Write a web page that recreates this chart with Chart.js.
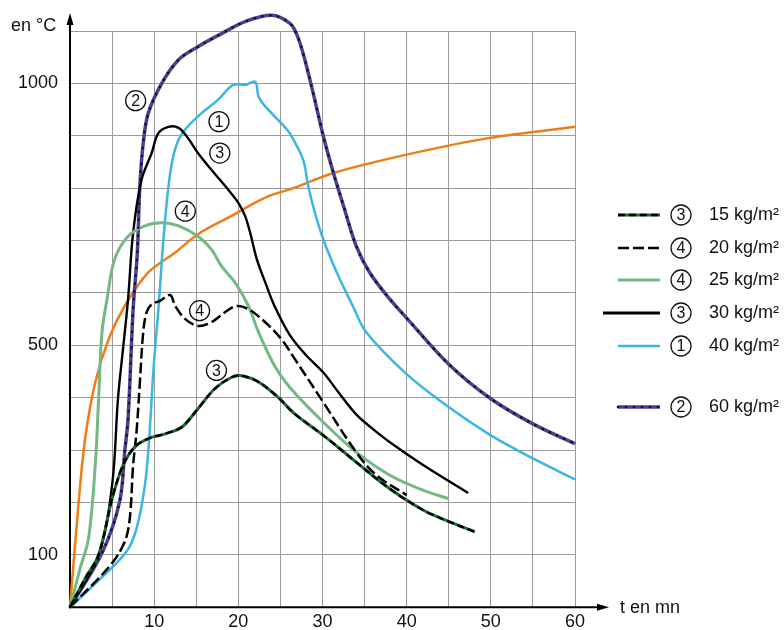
<!DOCTYPE html>
<html>
<head>
<meta charset="utf-8">
<script src="https://cdn.jsdelivr.net/npm/chart.js@4.4.1/dist/chart.umd.min.js"></script>
<style>
  html, body { margin: 0; padding: 0; background: #fff; }
</style>
</head>
<body>
<canvas id="fireChart" width="784" height="630"></canvas>
<script>
// Temperature (°C) against time (min)
const t15 = [0, 1.8, 3.4, 5.0, 6.3, 7.7, 9.3, 11.3, 13.3, 15.2, 17.2, 19.2, 20.4, 22.4, 24.7, 26.7, 30.1, 34.0, 38.0, 42.0, 45.1, 48.1];
const temp15 = [0, 55, 100, 207, 271, 306, 322, 331, 344, 379, 417, 439, 442, 430, 401, 369, 328, 277, 226, 185, 163, 144];

const t20 = [0, 4.8, 6.5, 7.1, 7.5, 7.9, 8.3, 8.7, 9.1, 9.7, 10.7, 11.9, 12.5, 13.7, 15.2, 16.8, 18.4, 19.8, 21.2, 23.2, 25.1, 26.7, 30.1, 34.0, 36.4, 40.0];
const temp20 = [0, 80, 125, 169, 271, 334, 429, 525, 563, 578, 585, 596, 575, 550, 537, 544, 563, 575, 569, 544, 512, 474, 391, 296, 252, 214];

const t25 = [0, 1.2, 2.2, 3.0, 3.4, 3.8, 4.4, 5.3, 6.9, 8.9, 10.9, 12.9, 15.2, 16.8, 18.0, 19.6, 21.2, 22.4, 24.3, 26.1, 30.1, 34.0, 38.0, 42.0, 45.0];
const temp25 = [0, 74, 131, 271, 398, 525, 588, 664, 708, 728, 734, 728, 708, 683, 651, 620, 575, 525, 461, 420, 353, 296, 252, 223, 207];

const t30 = [0, 3.4, 5.0, 5.7, 6.3, 6.9, 7.5, 8.5, 9.7, 10.5, 11.7, 12.9, 14.0, 15.2, 16.8, 18.8, 20.0, 20.8, 21.4, 22.2, 23.2, 24.3, 26.1, 28.0, 30.1, 32.0, 34.0, 36.0, 38.0, 42.0, 47.3];
const temp30 = [0, 100, 233, 398, 493, 588, 715, 816, 867, 905, 917, 915, 896, 867, 835, 797, 772, 747, 715, 664, 620, 575, 520, 482, 448, 408, 368, 340, 315, 271, 218];

const t40 = [0, 2.8, 6.7, 7.9, 8.9, 9.4, 9.9, 10.5, 11.3, 12.1, 13.1, 15.2, 17.6, 19.4, 20.8, 22.0, 22.4, 23.2, 25.1, 26.1, 27.7, 28.3, 29.1, 30.1, 31.7, 33.6, 35.2, 40, 45, 50, 55, 60];
const temp40 = [0, 42, 106, 150, 233, 320, 450, 569, 740, 848, 899, 937, 969, 997, 997, 1003, 975, 956, 924, 905, 854, 804, 753, 702, 639, 575, 525, 445, 382, 328, 284, 244];

const t60 = [0, 3.9, 5.9, 6.5, 6.9, 7.5, 8.0, 8.3, 8.7, 9.3, 10.9, 12.9, 15.2, 18.0, 20.8, 24.0, 26.1, 26.9, 27.7, 28.9, 30.1, 31.3, 32.5, 34.0, 35.6, 38.0, 40.0, 45.0, 50.0, 55.0, 60];
const temp60 = [0, 107, 202, 297, 360, 569, 677, 804, 886, 943, 1000, 1045, 1070, 1095, 1118, 1130, 1115, 1095, 1057, 981, 899, 829, 766, 690, 639, 588, 552, 464, 398, 350, 312];

// reference fire curve (orange, no legend entry)
const tRef = [0, 1.0, 1.8, 3.0, 4.6, 6.5, 9.3, 12.5, 15.2, 19.2, 23.2, 26.7, 31.3, 40.0, 49.9, 60, 62.6];
const tempRef = [0, 195, 322, 429, 512, 575, 639, 677, 712, 747, 782, 801, 829, 864, 896, 917, 923];

const legendNums = ['3', '4', '4', '3', '1', '2'];
const legendLabels = ['15 kg/m²', '20 kg/m²', '25 kg/m²', '30 kg/m²', '40 kg/m²', '60 kg/m²'];

// circled numbers written next to the curves
const markText = ['2', '1', '3', '4', '4', '3'];
const markT = [7.8, 17.7, 17.8, 13.7, 15.4, 17.4];
const markTemp = [967, 927, 867, 756, 566, 452];

const xTickLabels = [10, 20, 30, 40, 50, 60];
const yTickLabels = [100, 500, 1000];

const FONT = '"Liberation Sans", Arial, sans-serif';

// line looks, one list of layers per curve
const series = [
    { t: t15, temp: temp15, layers: [{ color: '#1d6a33', width: 3 }, { color: '#000', width: 2.4, dash: [7, 4] }] },
    { t: t20, temp: temp20, layers: [{ color: '#000', width: 2.5, dash: [11, 4] }] },
    { t: t25, temp: temp25, layers: [{ color: '#74b883', width: 3 }] },
    { t: t30, temp: temp30, layers: [{ color: '#000', width: 2.4 }] },
    { t: t40, temp: temp40, layers: [{ color: '#3bb5e2', width: 2.5 }] },
    { t: t60, temp: temp60, layers: [{ color: '#4b3f94', width: 3.5 }, { color: '#111', width: 2.6, dash: [0, 8], cap: 'round' }] },
    { t: tRef, temp: tempRef, layers: [{ color: '#f07d14', width: 2.5 }] }
];

function points(t, temp) {
    return t.map((x, i) => ({ x: x, y: temp[i] }));
}

const datasets = [];
series.forEach(s => {
    s.layers.forEach((l, k) => {
        datasets.push({
            data: points(s.t, s.temp),
            borderColor: l.color,
            borderWidth: l.width,
            borderDash: l.dash || [],
            borderCapStyle: l.cap || 'butt',
            pointRadius: 0,
            tension: 0.35,
            clip: false,
            order: k === 0 ? 1 : 0
        });
    });
});

function strokeLayers(ctx, layers, x1, x2, y) {
    layers.forEach(l => {
        ctx.save();
        ctx.strokeStyle = l.color;
        ctx.lineWidth = l.width;
        ctx.setLineDash(l.dash || []);
        ctx.lineCap = l.cap || 'butt';
        ctx.beginPath();
        ctx.moveTo(x1, y);
        ctx.lineTo(x2, y);
        ctx.stroke();
        ctx.restore();
    });
}

// digit inside a thin circle, like ① ② ③ ④
function circled(ctx, digit, x, y) {
    ctx.save();
    ctx.strokeStyle = '#111';
    ctx.lineWidth = 1.3;
    ctx.beginPath();
    ctx.arc(x, y, 10, 0, Math.PI * 2);
    ctx.stroke();
    ctx.fillStyle = '#111';
    ctx.font = '16px ' + FONT;
    ctx.textAlign = 'center';
    ctx.textBaseline = 'middle';
    ctx.fillText(digit, x, y + 1);
    ctx.restore();
}

const decor = {
    id: 'decor',
    beforeDatasetsDraw(chart) {
        const ctx = chart.ctx;
        const x0 = chart.scales.x.getPixelForValue(0);
        const y0 = chart.scales.y.getPixelForValue(0);
        ctx.save();
        ctx.strokeStyle = '#000';
        ctx.fillStyle = '#000';
        ctx.lineWidth = 2;
        ctx.beginPath();
        ctx.moveTo(x0, y0);
        ctx.lineTo(x0, 22);
        ctx.moveTo(x0, y0);
        ctx.lineTo(600, y0);
        ctx.stroke();
        // arrow heads
        ctx.beginPath();
        ctx.moveTo(x0, 13);
        ctx.lineTo(x0 - 3.5, 25);
        ctx.lineTo(x0 + 3.5, 25);
        ctx.closePath();
        ctx.fill();
        ctx.beginPath();
        ctx.moveTo(609, y0);
        ctx.lineTo(597, y0 - 3.5);
        ctx.lineTo(597, y0 + 3.5);
        ctx.closePath();
        ctx.fill();
        ctx.restore();
    },
    afterDatasetsDraw(chart) {
        const ctx = chart.ctx;
        const sx = chart.scales.x, sy = chart.scales.y;
        ctx.save();
        ctx.fillStyle = '#111';
        ctx.textBaseline = 'middle';

        // axis titles
        ctx.font = '18px ' + FONT;
        ctx.textAlign = 'left';
        ctx.fillText('en °C', 11, 26);
        ctx.fillText('t en mn', 620, 608);

        // circled numbers on the curves
        markText.forEach((m, i) => {
            circled(ctx, m, sx.getPixelForValue(markT[i]), sy.getPixelForValue(markTemp[i]));
        });

        // legend
        const rowY = [215, 248, 280, 313, 346, 407];
        legendLabels.forEach((lab, i) => {
            const startX = i === 3 ? 603 : 618;
            const layers = i === 3 ? [{ color: '#000', width: 3 }] : series[i].layers;
            strokeLayers(ctx, layers, startX, 660, rowY[i]);
            circled(ctx, legendNums[i], 681, rowY[i]);
            ctx.fillStyle = '#111';
            ctx.font = '18px ' + FONT;
            ctx.textAlign = 'left';
            ctx.textBaseline = 'middle';
            ctx.fillText(lab, 709, rowY[i]);
        });
        ctx.restore();
    }
};

const tickFont = { family: FONT, size: 18 };

new Chart(document.getElementById('fireChart').getContext('2d'), {
    type: 'line',
    data: { datasets: datasets },
    options: {
        responsive: false,
        animation: false,
        layout: { padding: { top: 31, right: 209, bottom: 0, left: 0 } },
        plugins: {
            legend: { display: false },
            tooltip: { enabled: false }
        },
        scales: {
            x: {
                type: 'linear',
                min: 0,
                max: 60,
                afterFit: s => { s.height = 21; },
                border: { display: false },
                grid: { color: '#9a9a9a', lineWidth: 1, drawTicks: false },
                ticks: {
                    stepSize: 5,
                    autoSkip: false,
                    maxRotation: 0,
                    padding: 4,
                    color: '#111',
                    font: tickFont,
                    callback: v => xTickLabels.includes(v) ? String(v) : ''
                }
            },
            y: {
                type: 'linear',
                min: 0,
                max: 1100,
                afterFit: s => { s.width = 70; },
                border: { display: false },
                grid: { color: '#9a9a9a', lineWidth: 1, drawTicks: false },
                ticks: {
                    stepSize: 100,
                    autoSkip: false,
                    padding: 12,
                    color: '#111',
                    font: tickFont,
                    callback: v => yTickLabels.includes(v) ? String(v) : ''
                }
            }
        }
    },
    plugins: [decor]
});
</script>
</body>
</html>
